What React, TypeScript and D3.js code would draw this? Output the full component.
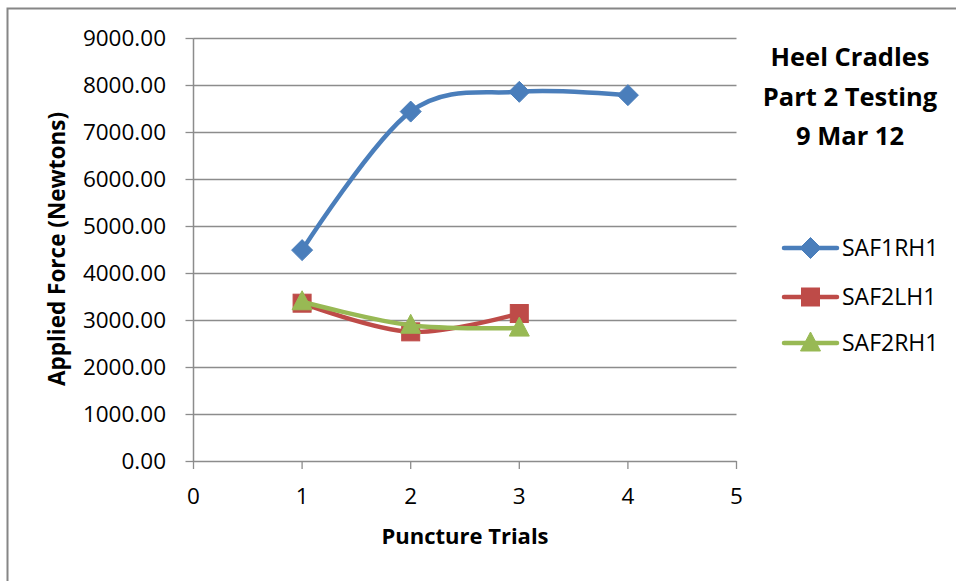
import React, { useRef, useEffect } from "react";
import * as d3 from "d3";

const trials = [1, 2, 3, 4];
const seriesNames = ["SAF1RH1", "SAF2LH1", "SAF2RH1"];
const saf1rh1 = [4490, 7440, 7860, 7790];
const saf2lh1 = [3360, 2750, 3140];
const saf2rh1 = [3390, 2890, 2830];
const yTicks = [0, 1000, 2000, 3000, 4000, 5000, 6000, 7000, 8000, 9000];
const xTicks = [0, 1, 2, 3, 4, 5];
const titleLines = ["Heel Cradles", "Part 2 Testing", "9 Mar 12"];

const colors = ["#4A7EBB", "#BE4B48", "#98B954"];
const FONT = "'Open Sans', 'Noto Sans', sans-serif";

export default function App() {
  const svgRef = useRef<SVGSVGElement>(null);

  useEffect(() => {
    if (!svgRef.current) return;
    const svg = d3.select(svgRef.current);
    svg.selectAll("*").remove();

    const W = 956;
    const H = 581;
    svg.attr("width", W).attr("height", H);

    svg.append("rect").attr("width", W).attr("height", H).attr("fill", "#fff");
    svg.append("rect")
      .attr("x", 7.5).attr("y", 8.5)
      .attr("width", W + 20).attr("height", H + 20)
      .attr("fill", "none").attr("stroke", "#868686").attr("stroke-width", 2);

    const x = d3.scaleLinear().domain([0, 5]).range([193.5, 736.5]);
    const y = d3.scaleLinear().domain([0, 9000]).range([461, 38.3]);

    // gridlines
    svg.append("g").selectAll("line").data(yTicks.filter(d => d > 0)).enter().append("line")
      .attr("x1", x(0)).attr("x2", x(5))
      .attr("y1", d => Math.round(y(d)) + 0.5).attr("y2", d => Math.round(y(d)) + 0.5)
      .attr("stroke", "#8C8C8C").attr("stroke-width", 1.3);

    // y axis
    const yAxis = svg.append("g");
    yAxis.append("line").attr("x1", x(0)).attr("x2", x(0)).attr("y1", y(9000)).attr("y2", y(0))
      .attr("stroke", "#8C8C8C").attr("stroke-width", 1.5);
    yAxis.selectAll(".yt").data(yTicks).enter().append("line")
      .attr("x1", x(0) - 8).attr("x2", x(0))
      .attr("y1", d => Math.round(y(d)) + 0.5).attr("y2", d => Math.round(y(d)) + 0.5)
      .attr("stroke", "#8C8C8C").attr("stroke-width", 1.3);
    yAxis.selectAll("text").data(yTicks).enter().append("text")
      .attr("x", 166).attr("y", d => y(d) + 8)
      .attr("text-anchor", "end").attr("font-family", FONT).attr("font-size", 22.5)
      .attr("fill", "#000")
      .text(d => d3.format(".2f")(d));

    // x axis
    const xAxis = svg.append("g");
    xAxis.append("line").attr("x1", x(0)).attr("x2", x(5)).attr("y1", y(0) + 0.5).attr("y2", y(0) + 0.5)
      .attr("stroke", "#8C8C8C").attr("stroke-width", 1.5);
    xAxis.selectAll(".xt").data(xTicks).enter().append("line")
      .attr("x1", d => x(d)).attr("x2", d => x(d)).attr("y1", y(0)).attr("y2", y(0) + 8)
      .attr("stroke", "#8C8C8C").attr("stroke-width", 1.3);
    xAxis.selectAll("text").data(xTicks).enter().append("text")
      .attr("x", d => x(d)).attr("y", 504)
      .attr("text-anchor", "middle").attr("font-family", FONT).attr("font-size", 22.5)
      .text(d => String(d));

    // axis titles
    svg.append("text").attr("x", 465).attr("y", 544)
      .attr("text-anchor", "middle").attr("font-family", FONT).attr("font-weight", "bold")
      .attr("font-size", 22).text("Puncture Trials");
    svg.append("text")
      .attr("transform", `translate(65,249) rotate(-90)`)
      .attr("text-anchor", "middle").attr("font-family", FONT).attr("font-weight", "bold")
      .attr("font-size", 22.5).text("Applied Force (Newtons)");

    // chart title
    svg.append("g").selectAll("text").data(titleLines).enter().append("text")
      .attr("x", 850).attr("y", (d, i) => 66 + i * 39.5)
      .attr("text-anchor", "middle").attr("font-family", FONT).attr("font-weight", "bold")
      .attr("font-size", 25.5).text(d => d);

    const allSeries = [saf1rh1, saf2lh1, saf2rh1];
    const line = d3.line<number>()
      .x((d, i) => x(trials[i]))
      .y(d => y(d))
      .curve(d3.curveCardinal.tension(0));

    const drawMarker = (g: d3.Selection<SVGGElement, unknown, null, undefined>, k: number, cx: number, cy: number) => {
      if (k === 0) {
        g.append("path").attr("d", `M${cx},${cy - 10.5}L${cx + 10.5},${cy}L${cx},${cy + 10.5}L${cx - 10.5},${cy}Z`)
          .attr("fill", colors[k]).attr("stroke", colors[k]).attr("stroke-width", 1);
      } else if (k === 1) {
        g.append("rect").attr("x", cx - 9).attr("y", cy - 9).attr("width", 18).attr("height", 18)
          .attr("fill", colors[k]).attr("stroke", colors[k]).attr("stroke-width", 1);
      } else {
        g.append("path").attr("d", `M${cx},${cy - 11}L${cx + 10},${cy + 8}L${cx - 10},${cy + 8}Z`)
          .attr("fill", colors[k]).attr("stroke", colors[k]).attr("stroke-width", 1);
      }
    };

    allSeries.forEach((vals, k) => {
      const g = svg.append("g");
      g.append("path").attr("d", line(vals) || "")
        .attr("fill", "none").attr("stroke", colors[k]).attr("stroke-width", 4.5)
        .attr("stroke-linejoin", "round").attr("stroke-linecap", "round");
      vals.forEach((v, i) => drawMarker(g, k, x(trials[i]), y(v)));
    });

    // legend
    const legendY = [248, 297, 343];
    seriesNames.forEach((name, k) => {
      const g = svg.append("g");
      g.append("line").attr("x1", 784).attr("x2", 837)
        .attr("y1", legendY[k]).attr("y2", legendY[k])
        .attr("stroke", colors[k]).attr("stroke-width", 4.5).attr("stroke-linecap", "round");
      drawMarker(g, k, 810.5, legendY[k]);
      g.append("text").attr("x", 842).attr("y", legendY[k] + 8)
        .attr("font-family", FONT).attr("font-size", 23).text(name);
    });
  }, []);

  return (
    <svg ref={svgRef} style={{ position: "absolute", left: 0, top: 0, display: "block" }} />
  );
}
